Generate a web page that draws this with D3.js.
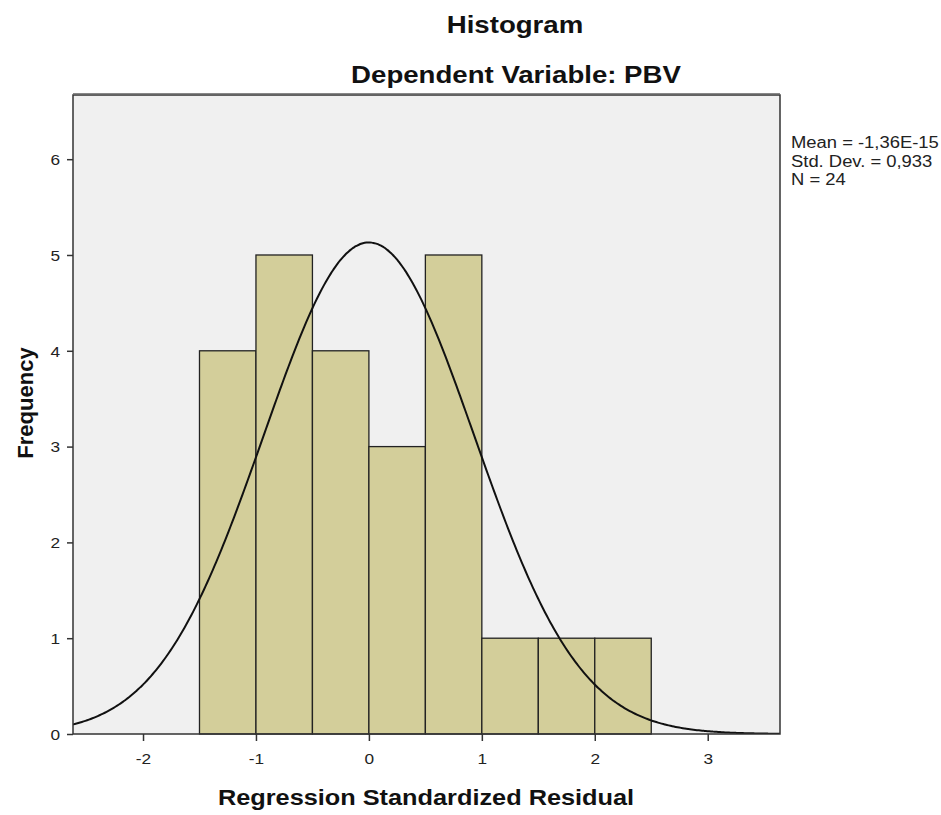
<!DOCTYPE html>
<html><head><meta charset="utf-8">
<script src="https://cdn.jsdelivr.net/npm/d3@7"></script>
<style>body{margin:0;background:#fff;} text{font-family:Arial,"Liberation Sans",sans-serif;}</style>
</head><body>
<svg id="c" width="941" height="815"></svg>
<script>
const binStarts = [-1.5,-1.0,-0.5,0.0,0.5,1.0,1.5,2.0];
const binWidth = 0.5;
const counts = [4,5,4,3,5,1,1,1];
const xTicks = [-2,-1,0,1,2,3];
const yTicks = [0,1,2,3,4,5,6];
const statMean = -1.36e-15, statSD = 0.933, statN = 24;
const legendLines = ["Mean = -1,36E-15","Std. Dev. = 0,933","N = 24"];

const svg = d3.select("#c");
const L=73, R=780, T=95, B=734;
const x = d3.scaleLinear().domain([-2.62,3.64]).range([L,R]);
const y = d3.scaleLinear().domain([0,6.67]).range([B,T]);
const FONT = "Arial, 'Liberation Sans', sans-serif";

svg.append("rect").attr("x",L).attr("y",T).attr("width",R-L).attr("height",B-T).attr("fill","#f0f0f0");

svg.selectAll("rect.bar").data(binStarts).join("rect").attr("class","bar")
  .attr("x",d=>x(d)).attr("width",d=>x(d+binWidth)-x(d))
  .attr("y",(d,i)=>y(counts[i])).attr("height",(d,i)=>y(0)-y(counts[i]))
  .attr("fill","#d3ce9a").attr("stroke","#222").attr("stroke-width",1.3);

const pdf = v => statN*binWidth/(statSD*Math.sqrt(2*Math.PI))*Math.exp(-0.5*((v-statMean)/statSD)**2);
const pts = d3.range(0,401).map(i=>{const v=-2.62+i*(3.64+2.62)/400; return [v,pdf(v)];});
svg.append("clipPath").attr("id","cp").append("rect").attr("x",L).attr("y",T).attr("width",R-L).attr("height",B-T);
svg.append("path").datum(pts).attr("clip-path","url(#cp)")
  .attr("d",d3.line().x(d=>x(d[0])).y(d=>y(d[1])).curve(d3.curveBasis))
  .attr("fill","none").attr("stroke","#111").attr("stroke-width",2);

svg.append("rect").attr("x",L).attr("y",T).attr("width",R-L).attr("height",B-T).attr("fill","none").attr("stroke","#333").attr("stroke-width",1.5);
svg.append("line").attr("x1",L).attr("x2",R).attr("y1",T-1.5).attr("y2",T-1.5).attr("stroke","#888").attr("stroke-width",1);

const xa = svg.append("g").attr("transform",`translate(0,${B})`).call(d3.axisBottom(x).tickValues(xTicks).tickSize(7).tickSizeOuter(0).tickFormat(d=>String(d)));
xa.select(".domain").remove();
xa.selectAll("line").attr("stroke","#333").attr("stroke-width",1.5);
xa.selectAll("text").attr("class","st").style("font-size","15px").style("font-family",FONT).attr("fill","#222").attr("y",30).attr("dy",null);

const ya = svg.append("g").attr("transform",`translate(${L},0)`).call(d3.axisLeft(y).tickValues(yTicks).tickSize(6).tickSizeOuter(0).tickFormat(d=>String(d)));
ya.select(".domain").remove();
ya.selectAll("line").attr("stroke","#333").attr("stroke-width",1.5);
ya.selectAll("text").attr("class","st").style("font-size","15px").style("font-family",FONT).attr("fill","#222").attr("x",-13).attr("dy","0.35em");

svg.append("text").attr("class","st").attr("x",515).attr("y",33).attr("text-anchor","middle").attr("font-size",24).attr("font-weight","bold").attr("fill","#111").text("Histogram");
svg.append("text").attr("class","st").attr("x",516).attr("y",83).attr("text-anchor","middle").attr("font-size",24).attr("font-weight","bold").attr("fill","#111").text("Dependent Variable: PBV");
svg.append("text").attr("class","st").attr("x",426).attr("y",805).attr("text-anchor","middle").attr("font-size",22).attr("font-weight","bold").attr("fill","#111").text("Regression Standardized Residual");
svg.append("text").attr("transform","translate(33,403) rotate(-90)").attr("text-anchor","middle").attr("font-size",22).attr("font-weight","bold").attr("fill","#111").text("Frequency");

svg.selectAll("text.leg").data(legendLines).join("text").attr("class","st")
  .attr("x",791).attr("y",(d,i)=>148+i*18.5).attr("font-size",16).attr("fill","#222").text(d=>d);

// reference image is horizontally stretched ~1.15x
svg.selectAll("text.st").each(function(){
  const w = this.getComputedTextLength();
  this.setAttribute("textLength", w*1.15);
  this.setAttribute("lengthAdjust","spacingAndGlyphs");
});
</script>
</body></html>
